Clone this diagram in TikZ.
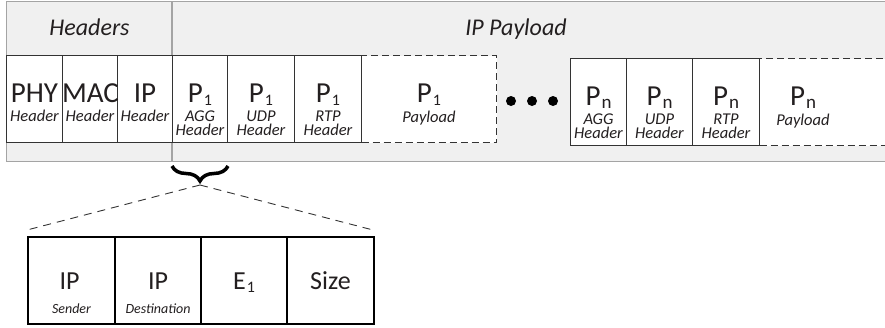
\documentclass[tikz,border=0pt]{standalone}
\usepackage{fontspec}
\setmainfont{Carlito}
\usetikzlibrary{decorations.pathreplacing}

\definecolor{bandfill}{HTML}{F0F0F0}
\definecolor{bandline}{HTML}{A4A4A4}
\definecolor{boxline}{HTML}{333333}
\definecolor{inkcol}{HTML}{231F20}

% subscript set smaller and dropped a little below the baseline
\newcommand\pktsub[2][16]{{\fontsize{#1}{#1}\selectfont\kern1pt\raisebox{-3pt}{#2}}}

\tikzset{
  band/.style={fill=bandfill, draw=bandline, line width=1.2pt, anchor=north west, inner sep=0pt},
  divider/.style={draw=bandline, line width=1.4pt},
  cell/.style={draw=boxline, line width=1pt, fill=white, minimum height=87pt,
               inner sep=0pt, anchor=north west},
  dcell/.style={cell, dash pattern=on 7pt off 4pt},
  field/.style={draw=black, line width=2pt, fill=white, minimum height=87pt,
                inner sep=0pt, anchor=north west},
  bigtxt/.style={font=\fontsize{29}{29}\selectfont, text=inkcol, anchor=base, inner sep=0pt},
  midtxt/.style={font=\fontsize{26}{26}\selectfont, text=inkcol, anchor=base, inner sep=0pt},
  % two-line labels: the base anchor sits on the last line
  smalltxt/.style={font=\fontsize{16.5}{14}\selectfont\itshape, text=inkcol, anchor=base,
                   inner sep=0pt, align=center},
  tinytxt/.style={font=\fontsize{14}{14}\selectfont\itshape, text=inkcol, anchor=base, inner sep=0pt},
  titletxt/.style={font=\fontsize{24}{24}\selectfont\itshape, text=inkcol, anchor=base, inner sep=0pt},
  dot/.style={circle, fill=black, minimum size=10pt, inner sep=0pt},
  zoomline/.style={draw=boxline, line width=0.9pt, dash pattern=on 8pt off 6pt},
  bracestyle/.style={draw=black, line width=3.5pt, decorate,
                     decoration={brace, mirror, amplitude=15pt}},
}

\begin{document}
\begin{tikzpicture}[x=1pt, y=-1pt]
\useasboundingbox (0,0) rectangle (885,327);
\clip (0,0) rectangle (885,327);

% grey frame: headers | IP payload
\node[band, minimum width=900pt, minimum height=160pt] (band) at (6,1) {};
\draw[divider] (172,1) -- (172,161);
\node[titletxt] (thdr) at (89.5,35) {Headers};
\node[titletxt] (tpay) at (516,35) {IP Payload};

% first packet row
\node[dcell, minimum width=135pt] (pay1) at (361,55) {};
\node[cell, minimum width=56pt] (phy) at (6,55) {};
\node[cell, minimum width=55pt] (mac) at (62,55) {};
\node[cell, minimum width=55pt] (iph) at (117,55) {};
\node[cell, minimum width=55pt] (agg1) at (172,55) {};
\node[cell, minimum width=67pt] (udp1) at (227,55) {};
\node[cell, minimum width=67pt] (rtp1) at (294,55) {};

\node[bigtxt] (phyA) at ([yshift=-47pt]phy.north) {PHY};
\node[smalltxt] (phyB) at ([yshift=-66pt]phy.north) {Header};
\node[bigtxt] (macA) at ([yshift=-47pt,xshift=0.5pt]mac.north) {MAC};
\node[smalltxt] (macB) at ([yshift=-66pt]mac.north) {Header};
\node[bigtxt] (iphA) at ([yshift=-47pt]iph.north) {IP};
\node[smalltxt] (iphB) at ([yshift=-66pt]iph.north) {Header};

\node[bigtxt] (agg1A) at ([yshift=-47pt]agg1.north) {P\pktsub{1}};
\node[smalltxt] (agg1B) at ([yshift=-80pt]agg1.north) {AGG\\Header};
\node[bigtxt] (udp1A) at ([yshift=-47pt]udp1.north) {P\pktsub{1}};
\node[smalltxt] (udp1B) at ([yshift=-80pt]udp1.north) {UDP\\Header};
\node[bigtxt] (rtp1A) at ([yshift=-47pt]rtp1.north) {P\pktsub{1}};
\node[smalltxt] (rtp1B) at ([yshift=-80pt]rtp1.north) {RTP\\Header};
\node[bigtxt] (pay1A) at ([yshift=-47pt]pay1.north) {P\pktsub{1}};
\node[smalltxt] (pay1B) at ([yshift=-67pt]pay1.north) {Payload};

% ellipsis between packets
\node[dot] (d1) at (511,101) {};
\node[dot] (d2) at (532,101) {};
\node[dot] (d3) at (553,101) {};

% last packet row
\node[dcell, minimum width=150pt] (payn) at (759,58) {};
\node[cell, minimum width=56pt] (aggn) at (570,58) {};
\node[cell, minimum width=66pt] (udpn) at (626,58) {};
\node[cell, minimum width=67pt] (rtpn) at (692,58) {};

\node[bigtxt] (aggnA) at ([yshift=-47pt]aggn.north) {P\pktsub[19]{n}};
\node[smalltxt] (aggnB) at ([yshift=-80pt]aggn.north) {AGG\\Header};
\node[bigtxt] (udpnA) at ([yshift=-47pt]udpn.north) {P\pktsub[19]{n}};
\node[smalltxt] (udpnB) at ([yshift=-80pt]udpn.north) {UDP\\Header};
\node[bigtxt] (rtpnA) at ([yshift=-47pt]rtpn.north) {P\pktsub[19]{n}};
\node[smalltxt] (rtpnB) at ([yshift=-80pt]rtpn.north) {RTP\\Header};
\node[bigtxt] (paynA) at (803,105) {P\pktsub[19]{n}};
\node[smalltxt] (paynB) at (803,125) {Payload};

% brace under the aggregation header and its expansion
\draw[bracestyle] (172,166) -- (228,166);
\coordinate (tip) at (200,185);
\coordinate (zl) at (27,230);
\coordinate (zr) at (373,230);
\draw[zoomline] (tip) -- (zl);
\draw[zoomline] (tip) -- (zr);

% aggregation header fields
\node[field, minimum width=87pt] (snd) at (27,236) {};
\node[field, minimum width=86pt] (dst) at (114,236) {};
\node[field, minimum width=86pt] (ee) at (200,236) {};
\node[field, minimum width=87pt] (sz) at (286,236) {};

\node[midtxt] (sndA) at ([yshift=-53pt,xshift=-2pt]snd.north) {IP};
\node[tinytxt] (sndB) at ([yshift=-77pt]snd.north) {Sender};
\node[midtxt] (dstA) at ([yshift=-53pt]dst.north) {IP};
\node[tinytxt] (dstB) at ([yshift=-77pt]dst.north) {Destination};
\node[midtxt] (eeA) at ([yshift=-53pt]ee.north) {E\pktsub{1}};
\node[midtxt] (szA) at ([yshift=-53pt]sz.north) {Size};
\end{tikzpicture}
\end{document}
